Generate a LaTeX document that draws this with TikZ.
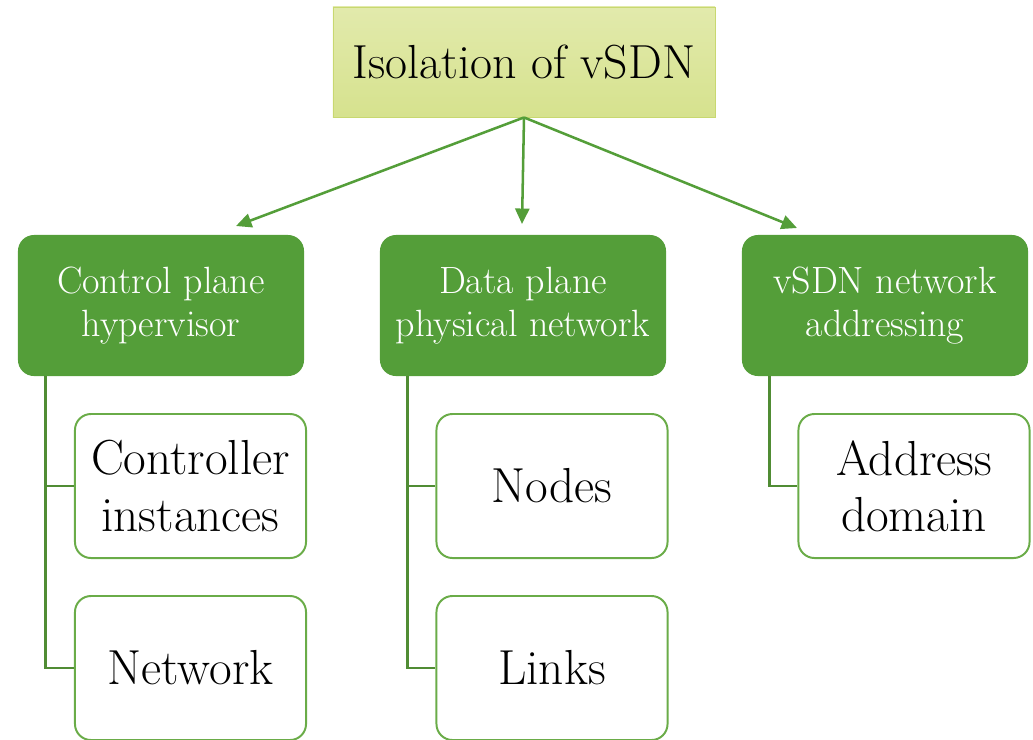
\documentclass[tikz,border=0pt]{standalone}
\usetikzlibrary{arrows.meta,calc}
\definecolor{headfill}{RGB}{214,226,142}
\definecolor{headtop}{RGB}{226,234,172}
\definecolor{headline}{RGB}{200,216,112}
\definecolor{branchfill}{RGB}{84,158,57}
\definecolor{leafline}{RGB}{106,172,72}
\definecolor{treeline}{RGB}{80,140,52}
\tikzstyle{every box} = [align=center, inner sep=0pt]
\tikzstyle{head} = [every box, draw=headline, line width=0.6pt, top color=headtop, bottom color=headfill,
  minimum width=9.55cm, minimum height=2.75cm, font=\fontsize{34}{40}\selectfont]
\tikzstyle{branch} = [every box, fill=branchfill, rounded corners=0.4cm, text=white,
  minimum width=7.15cm, minimum height=3.525cm, font=\fontsize{27}{31}\selectfont]
\tikzstyle{leaf} = [every box, draw=leafline, line width=1.4pt, fill=white, rounded corners=0.4cm,
  minimum width=5.775cm, minimum height=3.6cm, font=\fontsize{35}{40}\selectfont]
\tikzstyle{link} = [-{Triangle[length=11pt,width=10pt]}, draw=branchfill, line width=1.8pt]
\tikzstyle{tree} = [draw=treeline, line width=1.8pt]

\begin{document}
\begin{tikzpicture}[x=0.025cm, y=-0.025cm]
    \useasboundingbox (0,0) rectangle (1033,739);
    \begin{scope}
        \clip (0,0) rectangle (1033,739);

        \node[head] (iso) at (524,62) {Isolation of vSDN};

        \node[branch] (ctrl) at (161,305.5) {Control plane\\hypervisor};
        \node[branch] (data) at (523,305.5) {Data plane\\physical network};
        \node[branch] (addr) at (885,305.5) {vSDN network\\addressing};

        \node[leaf] (inst) at (190.5,486) {Controller\\instances};
        \node[leaf] (net) at (190.5,668) {Network};
        \node[leaf] (nodes) at (552,486) {Nodes};
        \node[leaf] (links) at (552,668) {Links};
        \node[leaf] (dom) at (914,486) {Address\\domain};

        % arrow ends above the green boxes
        \coordinate (ctrlin) at (236,226);
        \coordinate (datain) at (522,224);
        \coordinate (addrin) at (797,228);

        \draw[link] (iso.south) -- (ctrlin);
        \draw[link] (iso.south) -- (datain);
        \draw[link] (iso.south) -- (addrin);

        \draw[tree] ([xshift=0.7cm]ctrl.south west) |- (inst.west);
        \draw[tree] ([xshift=0.7cm]ctrl.south west) |- (net.west);
        \draw[tree] ([xshift=0.7cm]data.south west) |- (nodes.west);
        \draw[tree] ([xshift=0.7cm]data.south west) |- (links.west);
        \draw[tree] ([xshift=0.7cm]addr.south west) |- (dom.west);
    \end{scope}
\end{tikzpicture}
\end{document}
